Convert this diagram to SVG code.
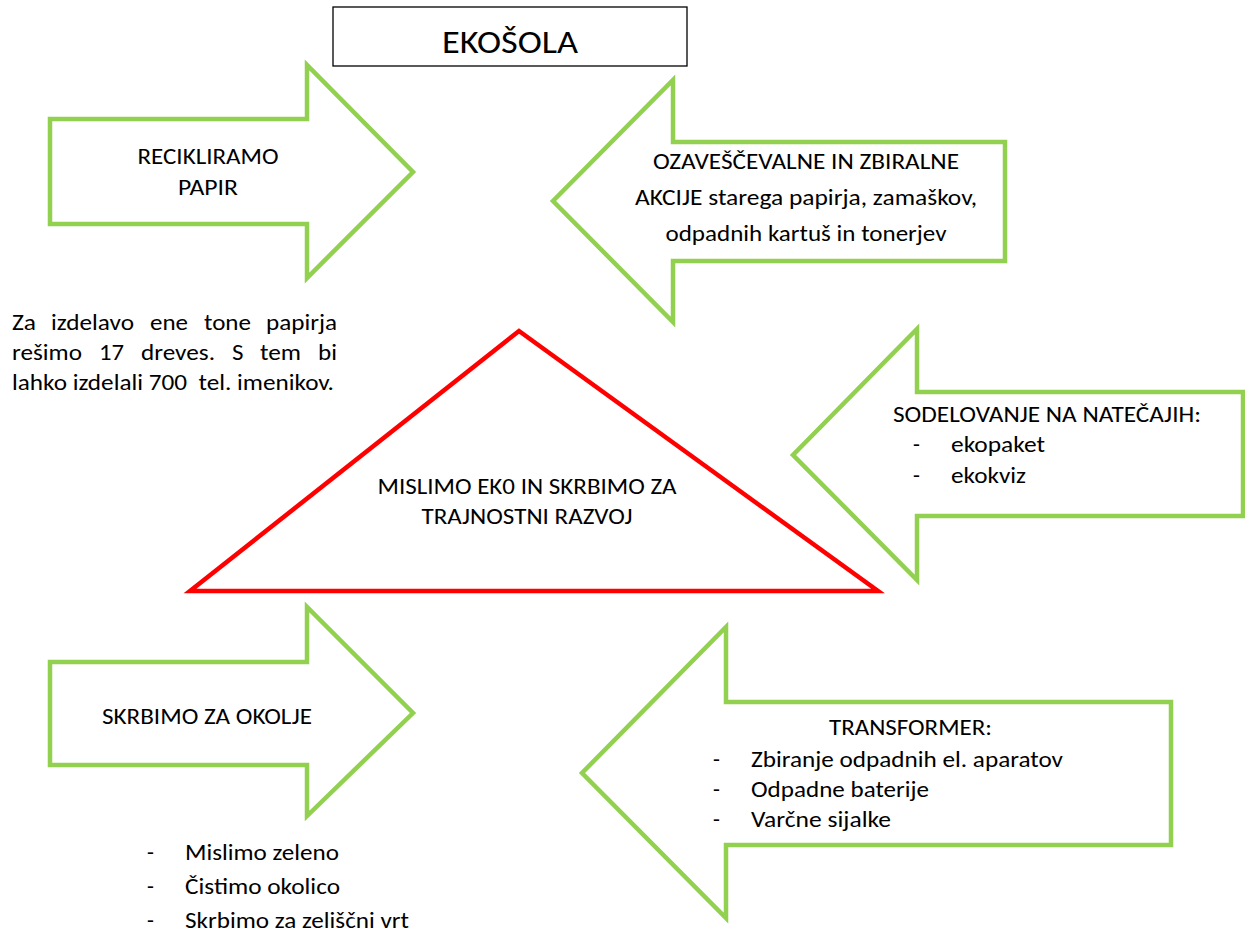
<svg xmlns="http://www.w3.org/2000/svg" width="1245" height="934" viewBox="0 0 1245 934">
<style>
  .arrow { fill: #FFFFFF; stroke: #92D050; stroke-width: 4.5; stroke-linejoin: miter; }
  .tri { fill: #FFFFFF; stroke: #FF0000; stroke-width: 4.5; stroke-linejoin: miter; }
  .box { fill: #FFFFFF; stroke: #000000; stroke-width: 1.3; }
  text { font-family: Carlito, Lato, "Liberation Sans", sans-serif; font-size: 22.5px; fill: #000000; white-space: pre; }
  .title { font-size: 32px; }
  .mid { text-anchor: middle; }
</style>
<rect width="1245" height="934" fill="#FFFFFF"/>

<g id="title">
  <rect class="box" x="333" y="7" width="354" height="59"/>
  <text class="title mid" x="510" y="53" textLength="136" lengthAdjust="spacingAndGlyphs">EKOŠOLA</text>
</g>

<g id="recikliramo">
  <polygon class="arrow" points="50,119 307,119 307,65 413,172 307,278 307,224 50,224"/>
  <text class="mid" x="208" y="164" textLength="141" lengthAdjust="spacingAndGlyphs">RECIKLIRAMO</text>
  <text class="mid" x="208" y="195" textLength="60" lengthAdjust="spacingAndGlyphs">PAPIR</text>
</g>

<g id="ozavescevalne">
  <polygon class="arrow" points="1005,142 673,142 673,80 553,201 673,322 673,261 1005,261"/>
  <text class="mid" x="806" y="169" textLength="306" lengthAdjust="spacingAndGlyphs">OZAVEŠČEVALNE IN ZBIRALNE</text>
  <text class="mid" x="806" y="205" textLength="342" lengthAdjust="spacingAndGlyphs">AKCIJE starega papirja, zamaškov,</text>
  <text class="mid" x="806" y="241" textLength="281" lengthAdjust="spacingAndGlyphs">odpadnih kartuš in tonerjev</text>
</g>

<g id="papir-info">
  <text x="12" y="330" textLength="24" lengthAdjust="spacingAndGlyphs">Za</text>
  <text x="51" y="330" textLength="83" lengthAdjust="spacingAndGlyphs">izdelavo</text>
  <text x="150" y="330" textLength="38" lengthAdjust="spacingAndGlyphs">ene</text>
  <text x="204" y="330" textLength="47" lengthAdjust="spacingAndGlyphs">tone</text>
  <text x="266" y="330" textLength="71" lengthAdjust="spacingAndGlyphs">papirja</text>
  <text x="12" y="360" textLength="70" lengthAdjust="spacingAndGlyphs">rešimo</text>
  <text x="99" y="360" textLength="25" lengthAdjust="spacingAndGlyphs">17</text>
  <text x="141" y="360" textLength="74" lengthAdjust="spacingAndGlyphs">dreves.</text>
  <text x="232" y="360" textLength="11.5" lengthAdjust="spacingAndGlyphs">S</text>
  <text x="260" y="360" textLength="41" lengthAdjust="spacingAndGlyphs">tem</text>
  <text x="318" y="360" textLength="19" lengthAdjust="spacingAndGlyphs">bi</text>
  <text x="12" y="390" textLength="322" lengthAdjust="spacingAndGlyphs">lahko izdelali 700  tel. imenikov.</text>
</g>

<g id="mislimo-eko">
  <polygon class="tri" points="519,331 878,591 190,591"/>
  <text class="mid" x="527" y="494" textLength="299" lengthAdjust="spacingAndGlyphs">MISLIMO EK0 IN SKRBIMO ZA</text>
  <text class="mid" x="527" y="524" textLength="211" lengthAdjust="spacingAndGlyphs">TRAJNOSTNI RAZVOJ</text>
</g>

<g id="sodelovanje">
  <polygon class="arrow" points="1243,392 917,392 917,329 793,455 917,580 917,516 1243,516"/>
  <text x="893" y="422" textLength="308" lengthAdjust="spacingAndGlyphs">SODELOVANJE NA NATEČAJIH:</text>
  <text x="913" y="452">-</text>
  <text x="951" y="452" textLength="94" lengthAdjust="spacingAndGlyphs">ekopaket</text>
  <text x="913" y="483">-</text>
  <text x="951" y="483" textLength="75" lengthAdjust="spacingAndGlyphs">ekokviz</text>
</g>

<g id="skrbimo">
  <polygon class="arrow" points="50,662 307,662 307,607 413,713 307,816 307,765 50,765"/>
  <text class="mid" x="207" y="724" textLength="210" lengthAdjust="spacingAndGlyphs">SKRBIMO ZA OKOLJE</text>
</g>

<g id="skrbimo-list">
  <text x="147" y="860">-</text>
  <text x="185" y="860" textLength="154" lengthAdjust="spacingAndGlyphs">Mislimo zeleno</text>
  <text x="147" y="894">-</text>
  <text x="185" y="894" textLength="155" lengthAdjust="spacingAndGlyphs">Čistimo okolico</text>
  <text x="147" y="928">-</text>
  <text x="185" y="928" textLength="224" lengthAdjust="spacingAndGlyphs">Skrbimo za zeliščni vrt</text>
</g>

<g id="transformer">
  <polygon class="arrow" points="1171,702 726,702 726,627 582,773 726,918 726,845 1171,845"/>
  <text x="829" y="735" textLength="163" lengthAdjust="spacingAndGlyphs">TRANSFORMER:</text>
  <text x="713" y="767">-</text>
  <text x="751" y="767" textLength="312" lengthAdjust="spacingAndGlyphs">Zbiranje odpadnih el. aparatov</text>
  <text x="713" y="797">-</text>
  <text x="751" y="797" textLength="178" lengthAdjust="spacingAndGlyphs">Odpadne baterije</text>
  <text x="713" y="827">-</text>
  <text x="751" y="827" textLength="140" lengthAdjust="spacingAndGlyphs">Varčne sijalke</text>
</g>

<g id="connectors"></g>
</svg>
